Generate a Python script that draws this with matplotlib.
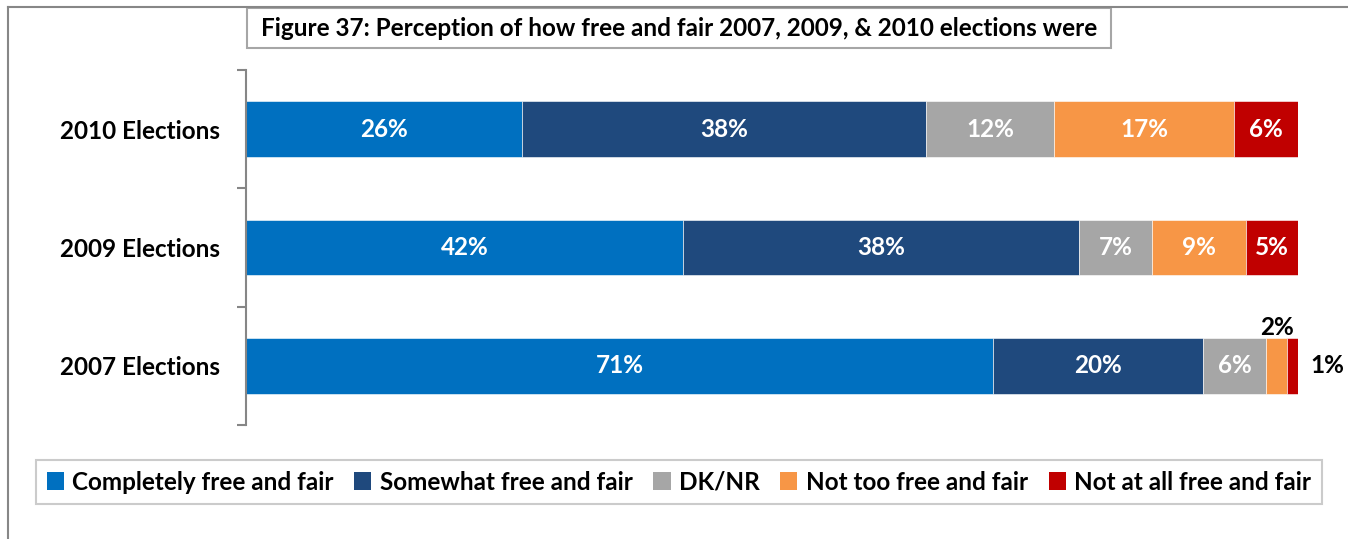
import matplotlib
matplotlib.use("Agg")
import matplotlib.pyplot as plt
from matplotlib.patches import Rectangle, Patch
from matplotlib.lines import Line2D
import numpy as np

plt.rcParams['font.family'] = ['Lato', 'DejaVu Sans']

categories = ["2007 Elections", "2009 Elections", "2010 Elections"]
series_names = ["Completely free and fair", "Somewhat free and fair", "DK/NR",
                "Not too free and fair", "Not at all free and fair"]
completely = [71, 42, 26]
somewhat = [20, 38, 38]
dknr = [6, 7, 12]
not_too = [2, 9, 17]
not_at_all = [1, 5, 6]
colors = ["#0070C0", "#1F497D", "#A6A6A6", "#F79646", "#C00000"]
title = "Figure 37: Perception of how free and fair 2007, 2009, & 2010 elections were"

W, H = 1348, 539
fig = plt.figure(figsize=(W / 100, H / 100), dpi=100)
fig.patch.set_facecolor("white")

def fx(px):
    return px / W

def fy(py):
    return 1 - py / H

ax = fig.add_axes([fx(246), fy(425), fx(1298) - fx(246), fy(70) - fy(425)])

data = np.array([completely, somewhat, dknr, not_too, not_at_all], dtype=float)
totals = data.sum(axis=0)
shares = data / totals * 100
y = np.arange(len(categories))
left = np.zeros(len(categories))
fs = 17.5
for i, name in enumerate(series_names):
    bars = ax.barh(y, shares[i], left=left, height=0.47, color=colors[i],
                   edgecolor="white", linewidth=0.4, label=name)
    for j, b in enumerate(bars):
        val = int(data[i, j])
        cx = left[j] + shares[i, j] / 2
        if val >= 3:
            ax.text(cx, y[j], f"{val}%", ha="center", va="center",
                    color="white", fontsize=fs, fontweight="bold")
        elif val == 2:
            ax.text(cx, y[j] + 0.32, f"{val}%", ha="center", va="center",
                    color="black", fontsize=fs, fontweight="bold")
        else:
            ax.text(101.2, y[j], f"{val}%", ha="left", va="center",
                    color="black", fontsize=fs, fontweight="bold", clip_on=False)
    left += shares[i]

ax.set_xlim(0, 100)
ax.set_ylim(-0.5, 2.5)
ax.set_xticks([])
for s in ["top", "right", "bottom"]:
    ax.spines[s].set_visible(False)
ax.spines["left"].set_color("#868686")
ax.spines["left"].set_linewidth(1.5)
ax.set_yticks(y)
ax.set_yticklabels(categories, fontsize=fs, fontweight="bold")
ax.tick_params(axis="y", which="major", length=0, pad=19)
ax.set_yticks([-0.5, 0.5, 1.5, 2.5], minor=True)
ax.tick_params(axis="y", which="minor", length=6.5, width=1.5, color="#868686")

# outer chart border (top and left edges)
fig.add_artist(Line2D([fx(8), 1], [fy(7), fy(7)], color="#878787", lw=1.5))
fig.add_artist(Line2D([fx(8), fx(8)], [fy(7), 0], color="#878787", lw=1.5))

# title box
fig.add_artist(Rectangle((fx(247), fy(48)), fx(1111) - fx(247), fy(8) - fy(48),
                         facecolor="white", edgecolor="#A6A6A6", lw=1.5))
fig.text(fx(679), fy(28), title, ha="center", va="center",
         fontsize=fs, fontweight="bold")

handles = [Patch(facecolor=c, edgecolor="none") for c in colors]
leg = fig.legend(handles, series_names, loc="center",
                 bbox_to_anchor=(fx(679), fy(482)), ncol=5,
                 prop={"size": fs, "weight": "bold"}, frameon=True,
                 fancybox=False, edgecolor="#BFBFBF", handlelength=0.7,
                 handleheight=0.7, handletextpad=0.35, columnspacing=0.85,
                 borderpad=0.45, borderaxespad=0)
leg.get_frame().set_linewidth(1.5)

fig.savefig("out.png", dpi=100, facecolor="white")
